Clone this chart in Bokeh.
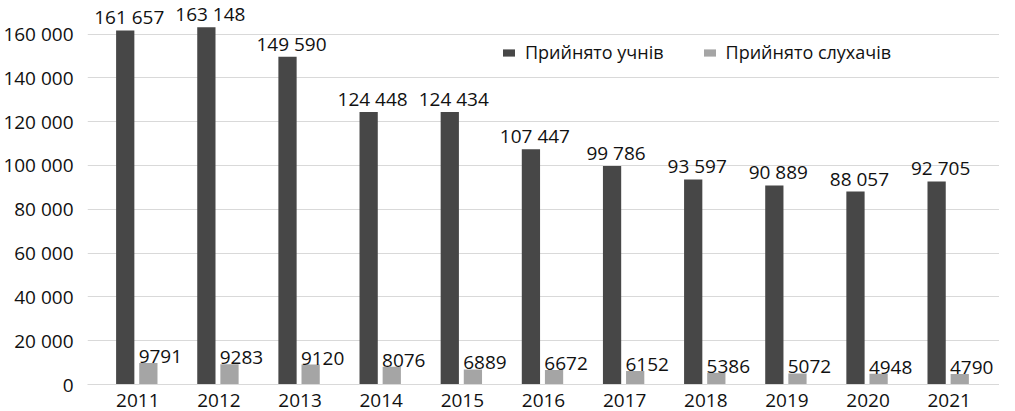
from bokeh.plotting import figure
from bokeh.models import ColumnDataSource, FactorRange, Range1d, FixedTicker, Legend, LegendItem, CustomJSTickFormatter, LabelSet
from bokeh.transform import dodge
from bokeh.core.properties import value
from bokeh.embed import file_html
from bokeh.resources import INLINE

years = ["2011", "2012", "2013", "2014", "2015", "2016", "2017", "2018", "2019", "2020", "2021"]
pupils = [161657, 163148, 149590, 124448, 124434, 107447, 99786, 93597, 90889, 88057, 92705]
listeners = [9791, 9283, 9120, 8076, 6889, 6672, 6152, 5386, 5072, 4948, 4790]
series_names = ["Прийнято учнів", "Прийнято слухачів"]
y_ticks = [0, 20000, 40000, 60000, 80000, 100000, 120000, 140000, 160000]

def fmt(v):
    return f"{v:,}".replace(",", " ") if v >= 10000 else str(v)

src = ColumnDataSource(dict(
    year=years, pupils=pupils, listeners=listeners,
    pupils_lbl=[fmt(v) for v in pupils],
    listeners_lbl=[fmt(v) for v in listeners],
))

FONT = "Open Sans"
FS = "19px"
DARK = "#474747"
GRAY = "#a5a5a5"
TXT = "#111111"
D1, D2 = -0.155, 0.13

x_range = FactorRange(*years, range_padding=0.12, range_padding_units="absolute")
p = figure(width=999, height=409, x_range=x_range, y_range=Range1d(0, 174400),
           output_backend="svg", toolbar_location=None,
           min_border_left=82, min_border_right=0, min_border_top=2, min_border_bottom=0)
p.outline_line_color = None

r1 = p.vbar(x=dodge("year", D1, range=p.x_range), top="pupils", width=0.225, source=src,
            fill_color=DARK, line_color=None)
r2 = p.vbar(x=dodge("year", D2, range=p.x_range), top="listeners", width=0.225, source=src,
            fill_color=GRAY, line_color=None)

lab1 = LabelSet(x=dodge("year", D1, range=p.x_range), y="pupils", text="pupils_lbl", source=src,
                text_align="center", text_baseline="bottom", x_offset=4, y_offset=0,
                text_font=value(FONT), text_font_size=value(FS), text_color=TXT)
lab2 = LabelSet(x=dodge("year", D2, range=p.x_range), y="listeners", text="listeners_lbl", source=src,
                text_align="center", text_baseline="bottom", x_offset=12, y_offset=0,
                text_font=value(FONT), text_font_size=value(FS), text_color=TXT)
p.add_layout(lab1)
p.add_layout(lab2)

p.yaxis.ticker = FixedTicker(ticks=y_ticks)
p.yaxis.formatter = CustomJSTickFormatter(code="return tick.toLocaleString('en-US').replace(/,/g, ' ');")
p.yaxis.axis_line_color = None
p.yaxis.major_tick_line_color = None
p.yaxis.minor_tick_line_color = None
p.yaxis.major_tick_out = 0
p.yaxis.major_tick_in = 0
p.yaxis.minor_tick_out = 0
p.yaxis.major_label_standoff = 14
p.yaxis.major_label_text_font = FONT
p.yaxis.major_label_text_font_size = FS
p.yaxis.major_label_text_color = TXT

p.xaxis.axis_line_color = "#d9d9d9"
p.xaxis.major_tick_line_color = None
p.xaxis.minor_tick_line_color = None
p.xaxis.major_tick_out = 0
p.xaxis.major_tick_in = 0
p.xaxis.minor_tick_out = 0
p.xaxis.major_label_standoff = 9
p.xaxis.major_label_text_font = FONT
p.xaxis.major_label_text_font_size = FS
p.xaxis.major_label_text_color = TXT

p.xgrid.grid_line_color = None
p.ygrid.ticker = FixedTicker(ticks=y_ticks)
p.ygrid.grid_line_color = "#d9d9d9"

legend = Legend(items=[LegendItem(label=series_names[0], renderers=[r1]),
                       LegendItem(label=series_names[1], renderers=[r2])],
                orientation="horizontal", location=(414, 320),
                glyph_width=15, glyph_height=9, label_standoff=9, spacing=38,
                padding=0, margin=0, border_line_color=None, background_fill_alpha=0,
                label_text_font=FONT, label_text_font_size="18px", label_text_color=TXT)
p.add_layout(legend)

open("out.html", "w").write(file_html(p, INLINE))
